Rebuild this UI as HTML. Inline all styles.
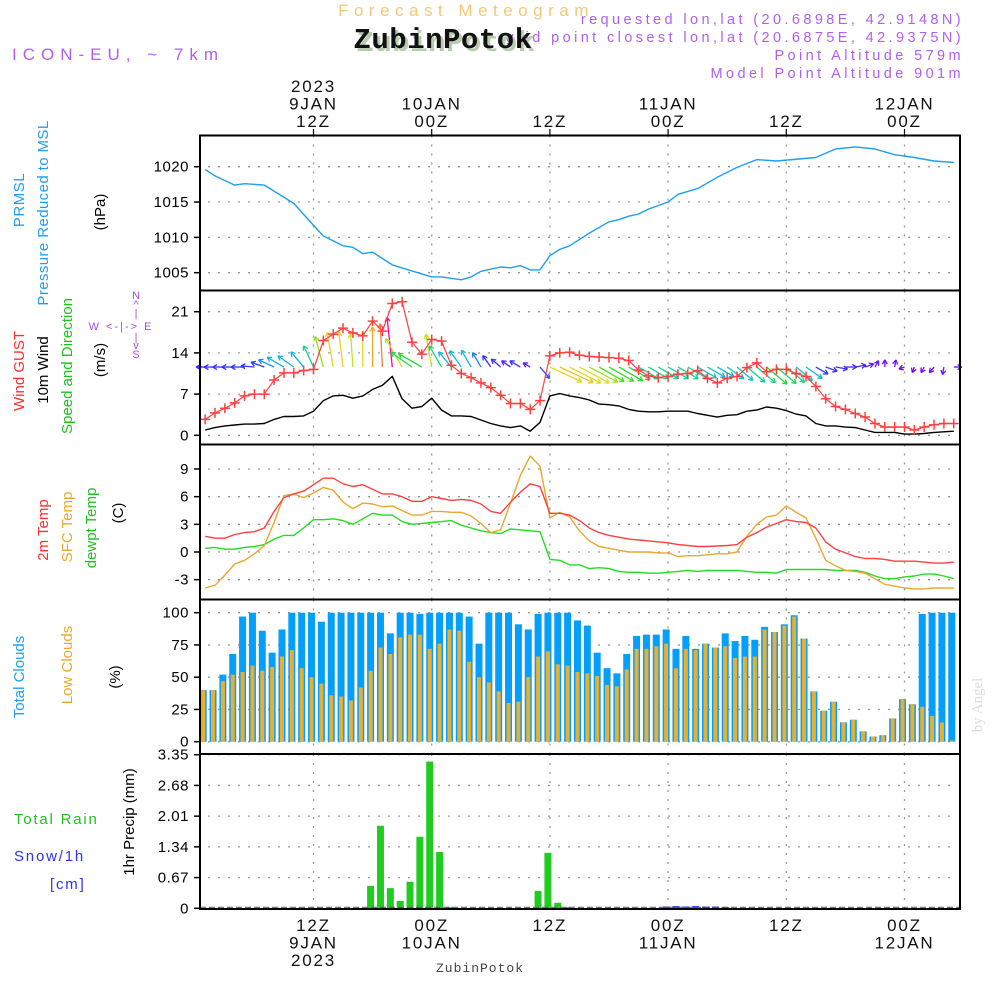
<!DOCTYPE html>
<html><head><meta charset="utf-8"><title>Meteogram ZubinPotok</title>
<style>
html,body{margin:0;padding:0;background:#fff;}
svg{display:block;font-family:"Liberation Sans",sans-serif;}
</style></head>
<body>
<svg id="chart" width="1000" height="1000" viewBox="0 0 1000 1000" xmlns="http://www.w3.org/2000/svg">
<rect x="0" y="0" width="1000" height="1000" fill="#fff"/>
<text x="466" y="16" text-anchor="middle" font-size="17" fill="#f5c878" letter-spacing="5.5">Forecast Meteogram</text>
<text x="964" y="42" text-anchor="end" font-size="14.5" fill="#b060f0" letter-spacing="3.4">grid point closest lon,lat (20.6875E, 42.9375N)</text>
<text x="446" y="51" text-anchor="middle" font-family="Liberation Mono, monospace" font-weight="bold" font-size="29" fill="#b8ccb0" letter-spacing="0.5">ZubinPotok</text>
<text x="443" y="48" text-anchor="middle" font-family="Liberation Mono, monospace" font-weight="bold" font-size="29" fill="#111" letter-spacing="0.5">ZubinPotok</text>
<text x="964" y="24" text-anchor="end" font-size="14.5" fill="#b060f0" letter-spacing="3.4">requested lon,lat (20.6898E, 42.9148N)</text>
<text x="964" y="60" text-anchor="end" font-size="14.5" fill="#b060f0" letter-spacing="3.4">Point Altitude 579m</text>
<text x="964" y="78" text-anchor="end" font-size="14.5" fill="#b060f0" letter-spacing="3.4">Model Point Altitude 901m</text>
<text x="12" y="60" font-size="17" fill="#b060f0" letter-spacing="6">ICON-EU, ~ 7km</text>
<text transform="translate(982,705) rotate(-90)" text-anchor="middle" font-family="Liberation Serif, serif" font-size="15" fill="#dcdcdc">by Angel</text>
<text x="480" y="972" text-anchor="middle" font-family="Liberation Mono, monospace" font-size="13" fill="#444" letter-spacing="1">ZubinPotok</text>

<!-- left labels -->
<g font-size="15">
<text transform="translate(24,200) rotate(-90)" text-anchor="middle" fill="#1e9ff0" letter-spacing="0.5">PRMSL</text>
<text transform="translate(48,213) rotate(-90)" text-anchor="middle" fill="#1e9ff0" letter-spacing="0.4">Pressure Reduced to MSL</text>
<text transform="translate(105,212) rotate(-90)" text-anchor="middle" fill="#000">(hPa)</text>
<text transform="translate(24,371) rotate(-90)" text-anchor="middle" fill="#ff3030">Wind GUST</text>
<text transform="translate(48,370) rotate(-90)" text-anchor="middle" fill="#000">10m Wind</text>
<text transform="translate(72,366) rotate(-90)" text-anchor="middle" fill="#20c020">Speed and Direction</text>
<text transform="translate(105,360) rotate(-90)" text-anchor="middle" fill="#000">(m/s)</text>
<text transform="translate(48,530) rotate(-90)" text-anchor="middle" fill="#ff3030">2m Temp</text>
<text transform="translate(72,527) rotate(-90)" text-anchor="middle" fill="#e8a830">SFC Temp</text>
<text transform="translate(96,528) rotate(-90)" text-anchor="middle" fill="#20c020">dewpt Temp</text>
<text transform="translate(123,513) rotate(-90)" text-anchor="middle" fill="#000">(C)</text>
<text transform="translate(24,677) rotate(-90)" text-anchor="middle" fill="#1e9ff0">Total Clouds</text>
<text transform="translate(72,665) rotate(-90)" text-anchor="middle" fill="#e8a830">Low Clouds</text>
<text transform="translate(120,677) rotate(-90)" text-anchor="middle" fill="#000">(%)</text>
<text transform="translate(134,822) rotate(-90)" text-anchor="middle" fill="#000">1hr Precip (mm)</text>
<text x="14" y="824" fill="#20c020" letter-spacing="1.8">Total  Rain</text>
<text x="14" y="861" fill="#3030ff" letter-spacing="1.8">Snow/1h</text>
<text x="50" y="889" fill="#3030ff" letter-spacing="1.8">[cm]</text>
</g>
<g fill="#a050e0" font-size="11" text-anchor="middle">
<text x="136" y="299">N</text><text x="136" y="308">^</text><text x="136" y="317">|</text>
<text x="121" y="330" letter-spacing="2">W &lt;-|-&gt; E</text>
<text x="136" y="341">|</text><text x="136" y="349">v</text><text x="136" y="358">S</text>
</g>
<g id="plot"></g>
</svg>
<script>
// ---- data (hours since 00Z 9 JAN 2023) ----
const pressureHours = [1,2,4,5,7,10,12,13,15,16,17,18,20,24,25,27,28,29,31,32,33,34,35,36,37,38,40,42,43,44,45,46,48,49,51,53,55,57,59,63,65,67,69,71,73,75,77];
const pressureVals = [1019.6,1018.7,1017.4,1017.6,1017.4,1014.8,1011.7,1010.2,1008.8,1008.6,1007.7,1007.9,1006.1,1004.4,1004.4,1004.0,1004.4,1005.2,1005.8,1005.7,1006.0,1005.4,1005.4,1007.4,1008.3,1008.8,1010.6,1012.2,1012.5,1013.0,1013.3,1014.0,1015.0,1016.1,1016.9,1018.5,1019.9,1021.0,1020.8,1021.3,1022.5,1022.8,1022.5,1021.7,1021.3,1020.8,1020.6];
const gustVals = [2.7,3.8,4.6,5.5,6.7,7.0,7.0,9.4,10.6,10.6,11.0,11.2,16.1,17.2,18.2,17.4,16.9,19.4,17.7,22.4,22.7,15.8,13.8,16.3,16.0,11.9,10.5,9.8,8.9,8.1,6.8,5.4,5.4,4.4,5.9,13.5,14.0,14.1,13.6,13.4,13.3,13.2,13.1,12.7,11.1,10.1,9.8,10.0,10.4,10.5,11.0,9.7,8.9,9.7,10.0,11.5,12.3,10.8,11.2,11.2,10.5,10.0,8.3,6.2,4.9,4.4,3.7,3.1,2.0,1.4,1.4,1.4,0.9,1.4,1.8,2.0,2.0];
const windVals = [0.9,1.3,1.6,1.75,1.9,1.9,2.0,2.7,3.2,3.2,3.3,4.1,5.9,6.7,6.8,6.3,6.7,7.8,8.5,10.0,6.2,4.6,4.9,6.3,4.3,3.3,3.3,3.2,2.6,2.0,1.6,1.3,1.6,0.7,2.2,6.7,7.1,6.7,6.4,6.0,5.3,5.2,5.0,4.4,4.1,4.0,4.0,4.1,4.1,4.1,3.7,3.4,3.1,3.4,3.5,4.1,4.3,4.8,4.6,4.2,3.6,3.3,2.0,1.6,1.6,1.4,1.3,0.9,0.5,0.5,0.5,0.2,0.2,0.3,0.5,0.6,0.7];
const windDirVals = [180,180,180,180,180,175,160,155,150,145,130,115,105,100,97,94,90,90,93,96,120,145,150,100,120,130,125,120,120,125,140,145,150,150,-50,-25,-25,-27,-28,-28,-30,-30,-30,-30,-30,-30,-30,-30,-30,-30,-30,-30,-30,-35,-40,-40,-40,-40,-40,-40,-40,-35,-30,-20,-10,0,10,20,60,90,80,200,250,240,230,260,0];
const temp2mVals = [1.7,1.5,1.5,1.9,2.1,2.2,2.6,4.4,5.9,6.3,6.6,7.3,8.0,8.0,7.4,7.1,7.3,6.8,6.3,6.3,6.0,5.5,5.5,6.0,5.8,5.6,5.7,5.6,5.2,4.4,4.2,5.4,6.5,7.4,7.1,4.2,4.2,4.0,3.4,2.6,2.1,1.8,1.6,1.4,1.3,1.2,1.1,1.0,0.8,0.7,0.6,0.6,0.65,0.7,0.8,1.6,2.1,2.7,3.1,3.5,3.3,3.2,2.6,1.1,0.3,-0.1,-0.5,-0.7,-0.7,-0.8,-1.0,-1.0,-1.0,-1.1,-1.2,-1.2,-1.1];
const sfcTempVals = [-3.9,-3.6,-2.5,-1.3,-0.9,-0.2,0.7,3.2,6.1,6.3,5.9,6.4,7.0,6.7,5.4,4.7,5.3,5.2,4.9,5.0,4.5,4.0,4.0,4.4,4.4,4.3,4.3,3.9,3.1,2.1,2.4,5.3,8.3,10.4,9.3,3.7,4.3,3.8,2.3,1.2,0.6,0.4,0.2,0,0,0,-0.1,-0.1,-0.5,-0.4,-0.4,-0.3,-0.2,-0.2,0,1.7,3.0,3.8,4.0,5.0,4.3,3.7,1.5,-0.9,-1.5,-2.0,-2.1,-2.3,-2.9,-3.5,-3.7,-3.9,-4.0,-4.0,-3.9,-3.9,-3.9];
const dewptVals = [0.4,0.5,0.3,0.3,0.5,0.6,0.8,1.4,1.8,1.8,2.6,3.5,3.5,3.6,3.4,3.0,3.6,4.2,4.0,4.0,3.3,3.0,3.1,3.2,3.3,3.4,2.9,2.6,2.3,2.1,2.0,2.5,2.4,2.3,2.2,-0.8,-0.9,-1.4,-1.4,-1.8,-1.7,-1.8,-2.1,-2.2,-2.2,-2.3,-2.3,-2.2,-2.1,-2.0,-2.1,-2.0,-2.0,-2.0,-2.0,-2.1,-2.2,-2.2,-2.3,-1.9,-1.9,-1.9,-1.9,-1.9,-2.0,-2.0,-2.0,-2.2,-2.6,-2.9,-2.9,-2.7,-2.6,-2.4,-2.4,-2.6,-2.9];
const totalCloudVals = [40,40,52,68,97,100,86,69,87,100,100,100,93,100,100,100,100,100,100,84,100,100,99,100,100,100,100,97,76,100,100,100,91,87,99,100,100,100,94,90,69,57,53,68,82,83,83,87,72,82,72,76,73,84,78,82,79,89,85,91,98,80,39,24,31,15,17,8,4,5,18,33,29,99,100,100,100];
const lowCloudVals = [40,40,47,52,54,59,55,58,66,71,57,50,45,36,35,32,42,55,73,68,81,83,83,72,76,87,86,62,50,46,39,30,31,50,66,70,60,59,54,53,51,44,43,56,72,72,74,76,57,72,71,76,73,74,65,66,66,87,85,90,97,80,39,24,31,15,17,8,4,5,18,33,29,27,20,15,1];
const rainVals = [0,0,0,0,0,0,0,0,0,0,0,0,0,0,0,0,0,0.49,1.80,0.44,0.16,0.58,1.56,3.20,1.23,0.03,0,0,0,0,0,0,0,0,0.38,1.21,0.12,0.03,0,0,0,0,0,0,0,0,0,0,0,0,0,0,0,0,0,0,0,0,0,0,0,0,0,0,0,0,0,0,0,0,0,0,0,0,0,0,0];
const snowVals = [0,0,0,0,0,0,0,0,0,0,0,0,0,0,0,0,0,0,0,0,0,0,0,0,0,0,0,0,0,0,0,0,0,0,0,0,0,0,0,0,0,0,0,0,0,0,0,0.04,0.05,0.04,0.05,0.04,0.04,0.03,0,0,0,0,0,0,0,0,0,0,0,0,0,0,0,0,0,0,0,0,0,0,0];
const pressureTicks = [1020,1015,1010,1005];
const windTicks = [21,14,7,0];
const tempTicks = [9,6,3,0,-3];
const cloudTicks = [100,75,50,25,0];
const precipTicks = ["3.35","2.68","2.01","1.34","0.67","0"];
const timeTickHours = [12,24,36,48,60,72];
const topTickLabels = [["2023","9JAN","12Z"],["","10JAN","00Z"],["","","12Z"],["","11JAN","00Z"],["","","12Z"],["","12JAN","00Z"]];
const bottomTickLabels = [["12Z","9JAN","2023"],["00Z","10JAN",""],["12Z","",""],["00Z","11JAN",""],["12Z","",""],["00Z","12JAN",""]];

// ---- axes ----
const X0 = 200, X1 = 960;
function xH(h){ return 313.5 + (h - 12) * 9.85; }
function lin(v0, y0, v1, y1){ return v => y0 + (v - v0) * (y1 - y0) / (v1 - v0); }
const yP = lin(1020, 166.7, 1005, 272.7);
const yW = lin(21, 311.7, 0, 435.3);
const yT = lin(9, 469, 0, 552);
const yC = lin(100, 612.7, 0, 741.7);
const yR = lin(3.35, 754.7, 0, 908.3);
const panels = [[135.5,290.5],[290.5,444.5],[444.5,599.5],[599.5,754],[754,909]];
const barHour = i => i + 0.8;
const lineHour = i => i + 1;

const NS = "http://www.w3.org/2000/svg";
const plot = document.getElementById('plot');
function mk(tag, attrs, parent){
  const e = document.createElementNS(NS, tag);
  for (const k in attrs) e.setAttribute(k, attrs[k]);
  (parent || plot).appendChild(e);
  return e;
}

panels.forEach((p, pi) => {
  timeTickHours.forEach(h => {
    const g = mk('line', {x1:xH(h), x2:xH(h), y1:p[0], y2:p[1], stroke:'#999', 'stroke-width':1.3, 'stroke-dasharray':'2,7'});
    
    
  });
});
function hGrid(ticks, yf){
  ticks.forEach(t => {
    const y = yf(+t);
    const g = mk('line', {x1:X0+8, x2:X1-4, y1:y, y2:y, stroke:'#999', 'stroke-width':1.3, 'stroke-dasharray':'2,8'});
    
    
    const tk = mk('line', {x1:X0-6, x2:X0, y1:y, y2:y, stroke:'#000', 'stroke-width':1.5});
    
    
    const lb = mk('text', {x:189, y:y+5, 'text-anchor':'end', 'font-size':15, fill:'#000', 'letter-spacing':0.5});
    
    
    lb.textContent = t;
  });
}
hGrid(pressureTicks, yP);
hGrid(windTicks, yW);
hGrid(tempTicks, yT);
hGrid(cloudTicks, yC);
hGrid(precipTicks, yR);

timeTickHours.forEach((h, k) => {
  const x = xH(h);
  const t1 = mk('line', {x1:x, x2:x, y1:129, y2:135, stroke:'#000', 'stroke-width':1.2});
  
  
  topTickLabels[k].forEach((s, r) => {
    if (!s) return;
    const t = mk('text', {x:x, y:92 + r*17.5, 'text-anchor':'middle', 'font-size':17, fill:'#111', 'letter-spacing':1.8});
    
    
    t.textContent = s;
  });
  bottomTickLabels[k].forEach((s, r) => {
    if (!s) return;
    const t = mk('text', {x:x, y:931 + r*17.5, 'text-anchor':'middle', 'font-size':17, fill:'#111', 'letter-spacing':1.8});
    
    
    t.textContent = s;
  });
});

function polyline(hours, vals, yf, color, name, w){
  const pts = vals.map((v, i) => xH(hours(i)).toFixed(1) + ',' + yf(v).toFixed(1)).join(' ');
  const e = mk('polyline', {points:pts, fill:'none', stroke:color, 'stroke-width':w||1.4, 'stroke-linejoin':'round'});
  
  
  return e;
}

polyline(i => pressureHours[i], pressureVals, yP, '#1e9ff0', 'pressure-line');

const spStops = [0,2,3,4,5,6.5,8,10];
const spCols = [[128,0,255],[40,60,255],[16,176,240],[16,208,160],[32,224,32],[224,224,32],[240,160,32],[255,0,160]];
function spColor(s){
  for (let k = 1; k < spStops.length; k++){
    if (s <= spStops[k]){
      const f = (s - spStops[k-1]) / (spStops[k] - spStops[k-1]);
      const c = spCols[k-1].map((a, j) => Math.round(a + (spCols[k][j] - a) * f));
      return 'rgb(' + c.join(',') + ')';
    }
  }
  return 'rgb(255,0,160)';
}
const arrowBaseY = yW(11.6);
windVals.forEach((s, i) => {
  const x = xH(lineHour(i));
  const L = 4.5 * s + 5;
  const a = windDirVals[i] * Math.PI / 180;
  const x2 = x + L * Math.cos(a), y2 = arrowBaseY - L * Math.sin(a);
  const col = spColor(s);
  const g = mk('g', {stroke:col, 'stroke-width':1.3, fill:'none'});
  
  
  mk('line', {x1:x, y1:arrowBaseY, x2:x2, y2:y2}, g);
  const hl = 5;
  [2.6, -2.6].forEach(d => {
    const b = Math.atan2(y2 - arrowBaseY, x2 - x) + Math.PI + d * 0.2;
    mk('line', {x1:x2, y1:y2, x2:x2 + hl*Math.cos(b), y2:y2 + hl*Math.sin(b)}, g);
  });
});

polyline(lineHour, windVals, yW, '#000', 'wind-speed-line');
polyline(lineHour, gustVals, yW, '#ff4040', 'gust-line', 1.2);
gustVals.forEach((v, i) => {
  const x = xH(lineHour(i)), y = yW(v);
  const m = mk('path', {d:`M${x-5},${y}H${x+5}M${x},${y-5}V${y+5}`, stroke:'#ff4040', 'stroke-width':1.5});
  
  
});

polyline(lineHour, dewptVals, yT, '#20dd20', 'dewpoint-line');
polyline(lineHour, sfcTempVals, yT, '#e8a830', 'sfc-temp-line');
polyline(lineHour, temp2mVals, yT, '#ff4040', 'temp-2m-line');

totalCloudVals.forEach((v, i) => {
  const xc = xH(barHour(i));
  const b = mk('rect', {x:Math.max(X0, xc-3.5), y:yC(v), width:Math.min(7, xc+3.5-X0), height:yC(0)-yC(v), fill:'#049ffa'});
  
  
});
lowCloudVals.forEach((v, i) => {
  const xc = xH(barHour(i));
  const b = mk('rect', {x:Math.max(X0, xc-2), y:yC(v), width:4, height:yC(0)-yC(v), fill:'#e8b030'});
  
  
});

rainVals.forEach((v, i) => {
  if (v <= 0) return;
  const xc = xH(barHour(i));
  const b = mk('rect', {x:xc-3.5, y:yR(v), width:7, height:yR(0)-yR(v), fill:'#20cc20'});
  
  
});
snowVals.forEach((v, i) => {
  if (v <= 0) return;
  const xc = xH(barHour(i));
  const b = mk('rect', {x:xc-3.5, y:yR(v), width:7, height:yR(0)-yR(v), fill:'#3050ff'});
  
  
});
const zl = mk('line', {x1:X0, x2:X1, y1:yR(0)-1, y2:yR(0)-1, stroke:'#555', 'stroke-width':1, 'stroke-dasharray':'6,3'});



panels.forEach((p, pi) => {
  const f = mk('rect', {x:X0, y:p[0], width:X1-X0, height:p[1]-p[0], fill:'none', stroke:'#000', 'stroke-width':2});
  
  
});
</script>
</body></html>
